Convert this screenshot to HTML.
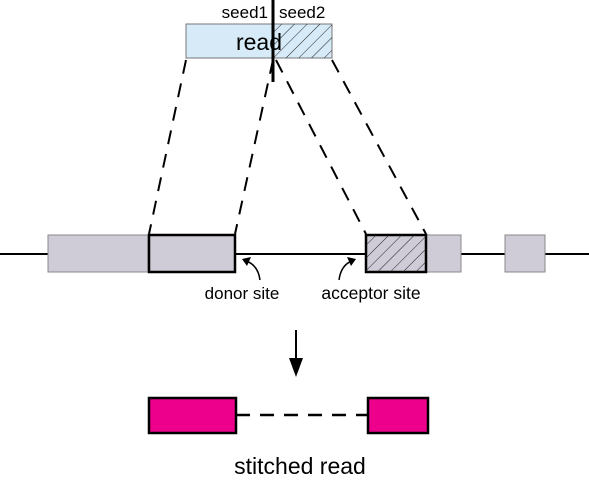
<!DOCTYPE html>
<html><head><meta charset="utf-8"><style>
html,body{margin:0;padding:0;background:#fff;}
svg{display:block;font-family:"Liberation Sans",sans-serif;}
</style></head><body>
<svg width="589" height="485" viewBox="0 0 589 485" xmlns="http://www.w3.org/2000/svg">
<defs>
<pattern id="h" patternUnits="userSpaceOnUse" width="9" height="9" patternTransform="rotate(45)">
<rect width="9" height="9" fill="none"/>
<line x1="0" y1="0" x2="0" y2="9" stroke="#222" stroke-width="1"/>
</pattern>
</defs>
<rect x="186" y="24" width="88" height="34" fill="#d6eaf8" stroke="#777" stroke-width="1"/>
<rect x="274" y="24" width="58" height="34" fill="#d6eaf8" stroke="#777" stroke-width="1"/>
<rect x="274" y="24" width="58" height="34" fill="url(#h)"/>
<text x="259" y="50" font-size="23" text-anchor="middle">read</text>
<text x="268" y="18" font-size="17" text-anchor="end">seed1</text>
<text x="279" y="18" font-size="17">seed2</text>
<line x1="273" y1="0" x2="273" y2="82" stroke="#000" stroke-width="3"/>
<g stroke="#000" stroke-width="2" stroke-dasharray="14,10" fill="none">
<line x1="186" y1="60" x2="149" y2="234"/>
<line x1="273" y1="60" x2="235" y2="234"/>
<line x1="276" y1="60" x2="366" y2="234"/>
<line x1="332" y1="60" x2="426" y2="234"/>
</g>
<line x1="0" y1="254" x2="589" y2="254" stroke="#000" stroke-width="2"/>
<rect x="48" y="235" width="100" height="37" fill="#cfcbd7" stroke="#888" stroke-width="1"/>
<rect x="426" y="235" width="35" height="37" fill="#cfcbd7" stroke="#888" stroke-width="1"/>
<rect x="505" y="235" width="40" height="37" fill="#cfcbd7" stroke="#888" stroke-width="1"/>
<rect x="149" y="235" width="86" height="37" fill="#cfcbd7" stroke="#000" stroke-width="2.5"/>
<rect x="366" y="235" width="60" height="37" fill="#cfcbd7" stroke="#000" stroke-width="2.5"/>
<rect x="366" y="235" width="60" height="37" fill="url(#h)"/>
<path d="M260 280 Q258 265 246 261" fill="none" stroke="#000" stroke-width="1.5"/>
<polygon points="242,259 251,257 247,266" fill="#000"/>
<path d="M339 280 Q341 265 352 261" fill="none" stroke="#000" stroke-width="1.5"/>
<polygon points="356,259 347,257 351,266" fill="#000"/>
<text x="242" y="299" font-size="17" text-anchor="middle">donor site</text>
<text x="371" y="299" font-size="17.5" text-anchor="middle">acceptor site</text>
<line x1="296" y1="330" x2="296" y2="362" stroke="#000" stroke-width="2"/>
<polygon points="289,358 303,358 296,377" fill="#000"/>
<line x1="236" y1="415" x2="368" y2="415" stroke="#000" stroke-width="2.5" stroke-dasharray="14,10"/>
<rect x="149" y="398" width="87" height="35" fill="#ec008c" stroke="#000" stroke-width="2.5"/>
<rect x="368" y="398" width="60" height="35" fill="#ec008c" stroke="#000" stroke-width="2.5"/>
<text x="300" y="474" font-size="23" text-anchor="middle">stitched read</text>
</svg>
</body></html>
